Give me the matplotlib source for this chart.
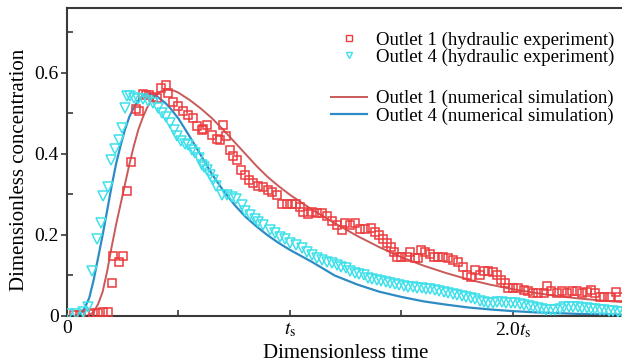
import matplotlib
matplotlib.use("Agg")
import matplotlib.pyplot as plt
from matplotlib.lines import Line2D

plt.rcParams['font.family'] = ['Liberation Serif', 'DejaVu Serif']
plt.rcParams['mathtext.fontset'] = 'stix'

# ---------------- data ----------------
exp1_t = [0.03, 0.06, 0.10, 0.118, 0.14, 0.16, 0.185, 0.20, 0.208, 0.235, 0.252, 0.268, 0.286,
          0.31, 0.325, 0.339, 0.354, 0.37, 0.385, 0.402, 0.422, 0.444, 0.454, 0.477, 0.50,
          0.52, 0.544, 0.566, 0.585, 0.604, 0.61, 0.626, 0.649, 0.671, 0.686, 0.698, 0.713,
          0.731, 0.746, 0.761, 0.779, 0.798, 0.817, 0.835, 0.858, 0.877, 0.903, 0.918, 0.94,
          0.963, 0.985, 1.008, 1.027, 1.045, 1.06, 1.082, 1.10, 1.12, 1.142, 1.165, 1.187,
          1.209, 1.232, 1.247, 1.269, 1.291, 1.314, 1.336, 1.362, 1.381, 1.40, 1.418, 1.436,
          1.451, 1.466, 1.481, 1.50, 1.523, 1.538, 1.56, 1.575, 1.586, 1.605, 1.628, 1.646,
          1.665, 1.688, 1.71, 1.732, 1.755, 1.777, 1.793, 1.81, 1.83, 1.85, 1.87, 1.89, 1.91,
          1.927, 1.945, 1.964, 1.979, 2.0, 2.024, 2.05, 2.069, 2.09, 2.114, 2.14, 2.154, 2.17,
          2.196, 2.22, 2.241, 2.264, 2.286, 2.31, 2.33, 2.35, 2.37, 2.39, 2.41, 2.435, 2.46, 2.477]
exp1_c = [0.003, 0.003, 0.005, 0.007, 0.007, 0.009, 0.011, 0.082, 0.147, 0.134, 0.148, 0.309, 0.379,
          0.51, 0.505, 0.549, 0.546, 0.546, 0.54, 0.538, 0.563, 0.569, 0.55, 0.527, 0.517,
          0.506, 0.497, 0.489, 0.469, 0.46, 0.461, 0.472, 0.447, 0.437, 0.434, 0.472, 0.443,
          0.41, 0.394, 0.384, 0.361, 0.349, 0.336, 0.328, 0.321, 0.318, 0.311, 0.306, 0.299,
          0.277, 0.276, 0.276, 0.277, 0.269, 0.257, 0.251, 0.257, 0.254, 0.254, 0.246, 0.235,
          0.225, 0.211, 0.229, 0.225, 0.229, 0.214, 0.214, 0.218, 0.207, 0.199, 0.191, 0.181,
          0.171, 0.158, 0.146, 0.146, 0.146, 0.157, 0.144, 0.144, 0.162, 0.158, 0.154, 0.146,
          0.146, 0.146, 0.142, 0.138, 0.134, 0.121, 0.101, 0.097, 0.113, 0.102, 0.11, 0.11, 0.108,
          0.10, 0.09, 0.082, 0.069, 0.069, 0.069, 0.065, 0.061, 0.057, 0.056, 0.057, 0.074, 0.061,
          0.057, 0.061, 0.057, 0.061, 0.061, 0.057, 0.059, 0.063, 0.057, 0.048, 0.046, 0.048, 0.059, 0.046]

exp4_t = [0.01, 0.04, 0.073, 0.096, 0.113, 0.133, 0.151, 0.163, 0.182, 0.196, 0.215, 0.233, 0.248,
          0.26, 0.268, 0.283, 0.30, 0.32, 0.342, 0.365, 0.387, 0.41, 0.425, 0.444, 0.462, 0.48,
          0.492, 0.51, 0.529, 0.544, 0.559, 0.574, 0.59, 0.604, 0.614, 0.626, 0.641, 0.656, 0.67,
          0.694, 0.716, 0.738, 0.76, 0.783, 0.798, 0.821, 0.843, 0.858, 0.881, 0.91, 0.933, 0.955,
          0.978, 1.0, 1.027, 1.052, 1.075, 1.097, 1.12, 1.142, 1.165, 1.187, 1.21,
          1.23, 1.25, 1.27, 1.29, 1.31, 1.33, 1.35, 1.37, 1.39, 1.41, 1.43, 1.45, 1.47, 1.49,
          1.51, 1.53, 1.55, 1.57, 1.59, 1.61, 1.63, 1.65, 1.67, 1.69, 1.71, 1.73, 1.75, 1.77,
          1.79, 1.81, 1.83, 1.85, 1.87, 1.89, 1.91, 1.93, 1.95, 1.97, 1.99, 2.01, 2.03, 2.05,
          2.07, 2.09, 2.11, 2.13, 2.15, 2.17, 2.19, 2.21, 2.23, 2.25, 2.27, 2.29, 2.31, 2.33,
          2.35, 2.37, 2.39, 2.41, 2.43, 2.45, 2.47, 2.49]
exp4_c = [0.005, 0.005, 0.011, 0.021, 0.11, 0.19, 0.23, 0.297, 0.318, 0.386, 0.412, 0.435, 0.464,
          0.513, 0.542, 0.542, 0.538, 0.536, 0.536, 0.53, 0.525, 0.513, 0.501, 0.492, 0.476, 0.46,
          0.443, 0.433, 0.425, 0.421, 0.41, 0.402, 0.39, 0.373, 0.367, 0.361, 0.349, 0.336, 0.32,
          0.299, 0.299, 0.293, 0.288, 0.274, 0.26, 0.25, 0.239, 0.231, 0.225, 0.213, 0.205, 0.196,
          0.19, 0.18, 0.176, 0.167, 0.159, 0.151, 0.143, 0.138, 0.134, 0.13, 0.126,
          0.121, 0.118, 0.112, 0.107, 0.104, 0.100, 0.094, 0.092, 0.088, 0.086, 0.084, 0.081, 0.078, 0.076,
          0.074, 0.072, 0.071, 0.069, 0.068, 0.067, 0.066, 0.064, 0.062, 0.06, 0.057, 0.054, 0.052, 0.05,
          0.047, 0.045, 0.043, 0.038, 0.034, 0.031, 0.033, 0.035, 0.034, 0.033, 0.032, 0.031, 0.03, 0.028,
          0.024, 0.021, 0.019, 0.018, 0.016, 0.015, 0.016, 0.018, 0.021, 0.023, 0.022, 0.021, 0.02, 0.019,
          0.018, 0.017, 0.015, 0.015, 0.013, 0.012, 0.011, 0.01]

sim1_t = [0.0, 0.08, 0.10, 0.12, 0.14, 0.16, 0.18, 0.20, 0.22, 0.24, 0.26, 0.28, 0.30, 0.32, 0.34,
          0.36, 0.38, 0.40, 0.42, 0.44, 0.46, 0.48, 0.50, 0.55, 0.60, 0.65, 0.70, 0.75, 0.80, 0.85,
          0.90, 0.95, 1.0, 1.1, 1.2, 1.3, 1.4, 1.5, 1.6, 1.7, 1.8, 1.9, 2.0, 2.1, 2.2, 2.3, 2.4, 2.5]
sim1_c = [0.0, 0.0, 0.002, 0.01, 0.03, 0.06, 0.11, 0.17, 0.225, 0.275, 0.325, 0.375, 0.42, 0.46, 0.49,
          0.515, 0.533, 0.546, 0.554, 0.558, 0.558, 0.556, 0.551, 0.533, 0.512, 0.488, 0.46, 0.43, 0.40, 0.37,
          0.343, 0.32, 0.299, 0.262, 0.229, 0.198, 0.17, 0.145, 0.124, 0.106, 0.09, 0.077, 0.066, 0.057,
          0.049, 0.043, 0.038, 0.034]

sim4_t = [0.0, 0.04, 0.06, 0.08, 0.10, 0.12, 0.14, 0.16, 0.18, 0.20, 0.22, 0.24, 0.26, 0.28, 0.30,
          0.32, 0.34, 0.36, 0.38, 0.40, 0.42, 0.44, 0.46, 0.50, 0.55, 0.60, 0.65, 0.70, 0.75, 0.80,
          0.85, 0.90, 0.95, 1.0, 1.1, 1.2, 1.3, 1.4, 1.5, 1.6, 1.7, 1.8, 1.9, 2.0, 2.1, 2.2, 2.3, 2.4, 2.5]
sim4_c = [0.0, 0.0, 0.005, 0.02, 0.045, 0.09, 0.145, 0.2, 0.26, 0.32, 0.375, 0.42, 0.46, 0.492, 0.515,
          0.532, 0.544, 0.549, 0.548, 0.543, 0.535, 0.526, 0.515, 0.487, 0.443, 0.397, 0.35, 0.31, 0.275,
          0.245, 0.221, 0.199, 0.18, 0.163, 0.133, 0.1, 0.078, 0.06, 0.047, 0.036, 0.028, 0.021, 0.016,
          0.012, 0.009, 0.007, 0.005, 0.004, 0.003]

labels = ["Outlet 1 (hydraulic experiment)", "Outlet 4 (hydraulic experiment)",
          "Outlet 1 (numerical simulation)", "Outlet 4 (numerical simulation)"]
x_ticks = [0, 1, 2]
x_ticklabels = ["0", r"$t_{\mathrm{s}}$", r"2.0$t_{\mathrm{s}}$"]
y_ticks = [0, 0.2, 0.4, 0.6]
y_ticklabels = ["0", "0.2", "0.4", "0.6"]

# ---------------- styles ----------------
RED_PT = "#ec3b3d"
CYAN_PT = "#3fe0ea"
RED_LN = "#c95a5a"
BLUE_LN = "#2e8cc4"
SPINE = "#3a3a3a"

fig = plt.figure(figsize=(6.22, 3.64), dpi=100)
ax = fig.add_axes([0.1077, 0.1319, 0.8963, 0.8461])

ax.plot(sim1_t, sim1_c, color=RED_LN, lw=1.4, zorder=2)
ax.plot(sim4_t, sim4_c, color=BLUE_LN, lw=1.6, zorder=2)
ax.plot(exp1_t, exp1_c, ls='none', marker='s', ms=6.2, mfc='none', mec=RED_PT, mew=1.1, zorder=3)
ax.plot(exp4_t, exp4_c, ls='none', marker='v', ms=7.0, mfc='none', mec=CYAN_PT, mew=1.1, zorder=3)

ax.set_xlim(0, 2.5)
ax.set_ylim(0, 0.76)

ax.set_xticks(x_ticks)
ax.set_xticklabels(x_ticklabels)
ax.set_xticks([0.5, 1.5, 2.5], minor=True)
ax.set_yticks(y_ticks)
ax.set_yticklabels(y_ticklabels)
ax.set_yticks([0.1, 0.3, 0.5, 0.7], minor=True)

ax.tick_params(axis='x', which='both', direction='in', length=4, width=1.2, color=SPINE,
               labelsize=14, pad=3)
ax.tick_params(axis='y', which='major', direction='out', length=4, width=1.2, color=SPINE,
               labelsize=14, pad=2)
ax.tick_params(axis='y', which='minor', direction='in', length=4, width=1.2, color=SPINE)

for s in ax.spines.values():
    s.set_color(SPINE)
    s.set_linewidth(1.5)

ax.set_xlabel("Dimensionless time", fontsize=15, labelpad=3)
ax.set_ylabel("Dimensionless concentration", fontsize=15)
ax.yaxis.set_label_coords(-0.068, 0.474)

h1 = [Line2D([], [], ls='none', marker='s', ms=4.5, mfc='none', mec=RED_PT, mew=1.0),
      Line2D([], [], ls='none', marker='v', ms=5, mfc='none', mec=CYAN_PT, mew=1.0)]
leg1 = ax.legend(h1, labels[:2], loc='upper left', bbox_to_anchor=(0.4755, 0.949),
                 frameon=False, fontsize=13.5, handlelength=1.0, handletextpad=0.94,
                 labelspacing=0.0, borderaxespad=0)
ax.add_artist(leg1)
h2 = [Line2D([], [], color=RED_LN, lw=1.4), Line2D([], [], color=BLUE_LN, lw=1.6)]
ax.legend(h2, labels[2:], loc='upper left', bbox_to_anchor=(0.46, 0.758),
          frameon=False, fontsize=13.5, handlelength=1.92, handletextpad=0.48,
          labelspacing=0.0, borderaxespad=0)

fig.savefig("out.png", dpi=100)
